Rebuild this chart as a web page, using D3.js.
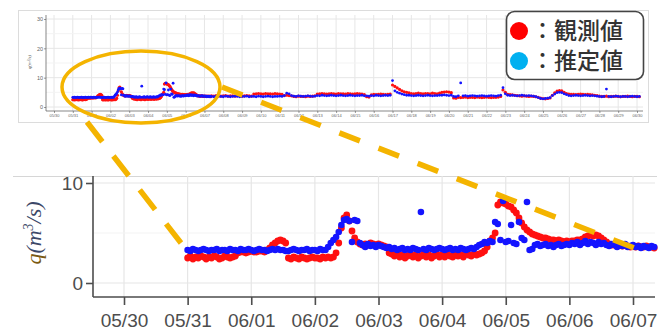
<!DOCTYPE html>
<head>
<meta charset="utf-8">
<title>観測値と推定値</title>
<style>
  body { margin: 0; padding: 0; background: #fff; }
  svg { display: block; font-family: 'Liberation Sans', Arial, sans-serif; }
  .grid line { stroke: #e6e6e6; }
  .grid line.minor { stroke: #f3f3f3; }
  .tick-label { fill: #4d4d4d; }
</style>
</head>
<body>
<div id="vis"></div>
<script src="https://cdn.jsdelivr.net/npm/d3@7"></script>
<script>
// hourly values from 05/31 00:00 (zoomed period)
var obsHourly = [
  2.5,2.7,2.4,2.6,2.5,2.7,2.6,2.4,2.6,2.5,2.7,2.6,2.4,2.5,2.7,2.6,2.5,2.6,2.7,3.0,3.1,3.1,3.0,3.1,
  3.2,3.1,3.1,3.2,3.2,3.1,3.3,3.5,3.8,4.0,4.2,4.3,4.2,4.0,2.5,2.4,2.6,2.5,2.4,2.6,2.5,2.4,2.5,2.6,
  2.5,2.5,2.4,2.6,2.5,2.6,2.5,2.6,3.0,4.0,5.5,6.5,6.8,6.2,5.2,4.5,4.1,3.9,3.8,3.9,3.8,4.0,3.9,3.8,
  3.9,3.8,3.7,3.6,3.0,2.9,2.7,2.9,2.6,2.8,2.5,2.7,2.9,2.6,2.8,2.5,2.7,2.9,2.6,2.8,2.5,2.7,2.9,2.6,
  2.8,2.6,2.9,2.7,2.6,2.9,2.7,2.8,2.6,2.9,2.8,2.7,2.9,2.8,2.9,3.0,3.2,3.6,4.2,4.5,5.0,7.8,8.1,8.0,
  7.9,7.7,7.6,7.3,7.0,6.5,6.0,5.6,5.3,5.1,4.9,4.8,4.7,4.6,4.5,4.5,4.4,4.3,4.3,4.2,4.3,4.2,4.1,4.2,
  4.1,4.2,4.2,4.3,4.3,4.4,4.6,4.7,4.8,4.7,4.8,4.7,4.5,4.3,4.1,3.9,3.8,3.8,3.7,3.8,3.7,3.8,3.7,3.6,
  3.7,3.6,3.7,3.6,3.6,3.7,3.6,3.6,3.5
];
var estHourly = [
  3.3,3.2,3.4,3.3,3.2,3.3,3.4,3.3,3.2,3.3,3.3,3.4,3.2,3.3,3.3,3.2,3.4,3.3,3.3,3.2,3.4,3.3,3.3,3.4,
  3.3,3.2,3.3,3.4,3.3,3.3,3.2,3.3,3.4,3.3,3.4,3.3,3.3,3.2,3.2,3.3,3.4,3.3,3.2,3.3,3.3,3.4,3.2,3.3,
  3.3,3.2,3.4,3.3,3.3,3.6,4.0,4.3,4.6,5.1,5.8,6.3,6.4,6.2,4.1,6.3,6.2,4.0,3.8,3.6,3.9,3.7,3.8,3.6,
  3.8,3.7,3.6,3.5,3.6,3.4,3.5,3.3,3.4,3.5,3.3,3.4,3.3,3.5,3.4,3.3,7.1,3.4,3.3,3.5,3.4,3.3,3.4,3.5,
  3.4,3.3,3.4,3.5,3.3,3.4,3.3,3.5,3.4,3.3,3.4,3.5,3.4,3.6,3.8,3.9,4.1,4.0,4.2,4.1,6.1,5.9,4.3,8.2,
  4.1,4.2,5.8,4.0,3.9,6.1,4.5,4.3,8.1,3.3,3.4,3.8,3.9,3.7,3.8,3.9,3.7,3.8,3.6,3.8,3.9,3.7,3.8,3.9,
  3.8,4.0,3.9,4.1,3.8,4.0,4.2,3.9,4.1,4.0,3.8,4.1,3.9,4.0,3.8,3.7,3.9,3.8,3.6,3.8,3.7,3.9,3.6,3.7,
  3.8,3.6,3.7,3.5,3.7,3.6,3.5,3.7,3.6
];
// 3-hourly values after the zoomed period (overview only)
var obsTail = [
  3.8,3.7,3.9,3.8,3.7,3.8,3.9,3.7,3.8,3.8,3.7,3.9,3.8,3.7,3.8,3.9,3.8,3.7,
  4.4,4.5,4.6,4.5,4.4,4.6,4.5,4.5,4.4,4.6,4.5,4.4,4.3,
  3.9,4.0,3.9,3.8,
  3.6,3.5,3.7,3.6,3.6,3.5,3.7,3.6,3.7,3.8,
  4.4,4.5,4.6,4.5,4.4,4.5,4.6,4.5,4.4,4.6,4.5,4.5,4.4,4.6,4.5,4.4,4.5,4.6,4.5,4.4,4.2,
  3.5,3.4,
  4.1,4.3,4.2,4.3,4.4,4.3,4.2,4.3,4.4,
  7.5,7.0,
  6.5,6.0,5.5,5.2,5.0,4.8,
  4.6,4.5,4.6,4.7,4.6,4.5,4.6,4.6,4.5,4.7,4.6,4.5,4.7,
  5.0,5.1,5.2,5.1,4.9,
  3.1,3.0,
  3.3,3.2,3.3,3.4,3.2,3.3,3.3,3.2,3.4,3.3,3.2,3.3,3.4,3.3,3.2,3.3,3.3,3.4,3.6,
  5.8,5.0,
  4.3,4.2,4.1,4.0,3.9,3.8,3.7,3.8,3.7,3.6,3.7,3.6,3.5,3.3,
  3.0,2.9,2.8,2.9,3.1,
  4.0,4.8,5.4,5.6,5.5,5.0,4.6,
  4.4,4.3,4.3,4.2,4.3,4.4,4.3,4.2,4.3,4.2,4.1,4.0,3.9,
  3.7,3.6,3.6,3.7,3.5,3.6,3.6,3.7,3.6,3.5,3.6,3.6,3.7,3.6,3.5,3.6,3.6,3.5
];
var estTail = [
  3.6,3.5,3.7,3.6,3.6,3.5,3.7,3.6,3.5,3.6,3.7,3.6,3.5,3.6,3.6,3.7,3.5,3.6,
  3.6,3.5,3.7,3.6,3.5,3.6,3.7,3.6,3.5,3.6,3.6,3.7,3.6,
  3.9,4.7,4.5,3.9,
  3.7,3.6,3.8,3.7,3.6,3.7,3.8,3.7,3.6,3.7,
  3.9,3.8,4.0,3.9,3.8,3.9,4.0,3.9,3.8,3.9,4.0,3.9,3.8,3.9,4.0,3.9,3.8,3.9,3.9,4.0,3.8,
  3.8,3.7,
  3.9,3.8,4.0,3.9,3.8,3.9,4.0,3.9,4.0,
  9.0,5.5,
  5.0,4.7,4.4,4.2,4.0,4.0,
  3.9,3.8,3.9,4.0,3.9,3.8,3.9,4.0,3.9,3.8,3.9,3.9,4.0,
  4.0,4.1,4.0,3.9,4.0,
  3.6,3.5,
  3.8,8.2,3.8,3.9,3.7,3.8,3.9,3.8,3.7,3.8,3.9,3.8,3.7,3.8,3.9,3.8,3.7,3.9,4.0,
  6.6,4.5,
  4.0,3.9,4.0,3.9,3.8,3.9,4.0,3.9,3.8,3.9,3.8,3.7,3.5,3.2,
  2.9,2.8,2.9,3.0,3.2,
  3.9,4.4,4.9,5.0,4.9,4.5,4.2,
  3.9,3.8,3.9,4.0,3.9,3.8,3.9,4.0,3.9,3.8,3.9,3.8,3.7,
  3.6,3.5,3.6,6.1,3.6,3.5,3.6,3.7,3.6,3.5,3.6,3.6,3.5,3.6,3.7,3.6,3.5,3.6
];
var legendLabels = ['：観測値', '：推定値'];
var legendColors = ['#ff0000', '#00b0f0'];

var W = 665, H = 332,
    red = '#ff1010', blue = '#1414ff', gold = '#f4b400';

var start = new Date(2018, 4, 31, 0),
    hour = 3600 * 1000;

function toSeries(hourly, tail) {
  var pts = hourly.map(function(v, i) { return { t: new Date(+start + i * hour), v: v }; });
  if (tail) {
    tail.forEach(function(v, i) {
      pts.push({ t: new Date(+start + (hourly.length + i * 3) * hour), v: v });
    });
  }
  return pts;
}

var obsAll = toSeries(obsHourly, obsTail),
    estAll = toSeries(estHourly, estTail),
    obsZoom = toSeries(obsHourly),
    estZoom = toSeries(estHourly);

var svg = d3.select('#vis').append('svg')
    .attr('width', W).attr('height', H);

var fmt = d3.timeFormat('%m/%d');

// ---------- overview chart ----------
var ovBox = { l: 46, r: 643, t: 15, b: 111 };
var xTop = d3.scaleTime()
    .domain([new Date(2018, 4, 30), new Date(2018, 5, 30)])
    .range([54, 637]);
var yTop = d3.scaleLinear().domain([0, 30]).range([107, 19]);

svg.append('rect')
    .attr('x', 18.5).attr('y', 10.5).attr('width', 630).attr('height', 112)
    .attr('fill', '#fff').attr('stroke', '#dcdcdc');

var gTop = svg.append('g');
var topDays = d3.timeDay.range(new Date(2018, 4, 30), new Date(2018, 5, 30, 1));

gTop.append('g').attr('class', 'grid')
  .selectAll('line').data(topDays).enter().append('line')
    .attr('x1', function(d) { return xTop(d); }).attr('x2', function(d) { return xTop(d); })
    .attr('y1', ovBox.t).attr('y2', ovBox.b);
gTop.append('g').attr('class', 'grid')
  .selectAll('line').data([0, 5, 10, 15, 20, 25, 30]).enter().append('line')
    .classed('minor', function(d) { return d % 10 !== 0; })
    .attr('x1', ovBox.l).attr('x2', ovBox.r)
    .attr('y1', function(d) { return yTop(d); }).attr('y2', function(d) { return yTop(d); });

gTop.append('g').selectAll('circle').data(obsAll).enter().append('circle')
    .attr('cx', function(d) { return xTop(d.t); })
    .attr('cy', function(d) { return yTop(d.v); })
    .attr('r', 1.6).attr('fill', red);
gTop.append('g').selectAll('circle').data(estAll).enter().append('circle')
    .attr('cx', function(d) { return xTop(d.t); })
    .attr('cy', function(d) { return yTop(d.v); })
    .attr('r', 1.4).attr('fill', blue);

var axTopY = gTop.append('g').attr('transform', 'translate(' + ovBox.l + ',0)')
    .call(d3.axisLeft(yTop).tickValues([0, 10, 20, 30]).tickSize(2).tickPadding(1));
var axTopX = gTop.append('g').attr('transform', 'translate(0,' + ovBox.b + ')')
    .call(d3.axisBottom(xTop).tickValues(topDays).tickFormat(fmt).tickSize(2).tickPadding(1.5));
[axTopY, axTopX].forEach(function(a) {
  a.select('.domain').remove();
  a.selectAll('line').attr('stroke', '#555').attr('stroke-width', 0.6);
  a.selectAll('text').attr('fill', '#666').attr('font-family', 'Liberation Sans, Arial, sans-serif');
});
axTopY.selectAll('text').attr('font-size', 5.5);
axTopX.selectAll('text').attr('font-size', 4);
gTop.append('line').attr('x1', ovBox.l).attr('x2', ovBox.l).attr('y1', ovBox.t).attr('y2', ovBox.b)
    .attr('stroke', '#555').attr('stroke-width', 0.7);
gTop.append('line').attr('x1', ovBox.l).attr('x2', ovBox.r).attr('y1', ovBox.b).attr('y2', ovBox.b)
    .attr('stroke', '#555').attr('stroke-width', 0.7);

var lblTop = gTop.append('text')
    .attr('transform', 'translate(31,62) rotate(-90)')
    .attr('text-anchor', 'middle').attr('font-size', 5).attr('fill', '#444')
    .attr('font-family', 'Liberation Serif, serif').attr('font-style', 'italic');
lblTop.text('q(m³/s)');

// ---------- zoomed chart ----------
var bot = { l: 93, r: 655, t: 176, b: 297 };
var xBot = d3.scaleTime()
    .domain([new Date(2018, 4, 30), new Date(2018, 5, 7)])
    .range([124, 633]);
var yBot = d3.scaleLinear().domain([0, 10]).range([283, 183]);
var botDays = d3.timeDay.range(new Date(2018, 4, 30), new Date(2018, 5, 7, 1));

var gBot = svg.append('g');
gBot.append('line').attr('x1', 13).attr('x2', 657).attr('y1', bot.t + 0.5).attr('y2', bot.t + 0.5)
    .attr('stroke', '#d6d6d6');
gBot.append('g').attr('class', 'grid')
  .selectAll('line').data(botDays).enter().append('line')
    .attr('x1', function(d) { return xBot(d); }).attr('x2', function(d) { return xBot(d); })
    .attr('y1', bot.t).attr('y2', bot.b).attr('stroke-width', 1.2);
gBot.append('g').attr('class', 'grid')
  .selectAll('line').data([0, 5, 10]).enter().append('line')
    .classed('minor', function(d) { return d === 5; })
    .attr('x1', bot.l).attr('x2', bot.r)
    .attr('y1', function(d) { return yBot(d); }).attr('y2', function(d) { return yBot(d); })
    .attr('stroke-width', 1.2);

gBot.append('g').selectAll('circle').data(obsZoom).enter().append('circle')
    .attr('cx', function(d) { return xBot(d.t); })
    .attr('cy', function(d) { return yBot(d.v); })
    .attr('r', 3.4).attr('fill', red);
gBot.append('g').selectAll('circle').data(estZoom).enter().append('circle')
    .attr('cx', function(d) { return xBot(d.t); })
    .attr('cy', function(d) { return yBot(d.v); })
    .attr('r', 3.3).attr('fill', blue);

var axBotY = gBot.append('g').attr('transform', 'translate(' + bot.l + ',0)')
    .call(d3.axisLeft(yBot).tickValues([0, 10]).tickSize(7).tickPadding(3));
var axBotX = gBot.append('g').attr('transform', 'translate(0,' + bot.b + ')')
    .call(d3.axisBottom(xBot).tickValues(botDays).tickFormat(fmt).tickSize(8).tickPadding(9));
[axBotY, axBotX].forEach(function(a) {
  a.select('.domain').remove();
  a.selectAll('line').attr('stroke', '#4d4d4d').attr('stroke-width', 1.6);
  a.selectAll('text').attr('class', 'tick-label').attr('font-size', 19)
    .attr('font-family', 'Liberation Sans, Arial, sans-serif');
});
gBot.append('line').attr('x1', bot.l).attr('x2', bot.l).attr('y1', bot.t).attr('y2', bot.b)
    .attr('stroke', '#4d4d4d').attr('stroke-width', 1.6);
gBot.append('line').attr('x1', bot.l).attr('x2', bot.r).attr('y1', bot.b).attr('y2', bot.b)
    .attr('stroke', '#4d4d4d').attr('stroke-width', 1.6);

var lblBot = gBot.append('text')
    .attr('transform', 'translate(41,233) rotate(-90)')
    .attr('text-anchor', 'middle').attr('font-size', 22)
    .attr('font-family', 'Liberation Serif, serif').attr('font-style', 'italic');
lblBot.append('tspan').attr('fill', '#7a5a12').text('q');
lblBot.append('tspan').attr('fill', '#3c4868').text('(m');
lblBot.append('tspan').attr('fill', '#3c4868').attr('font-size', 14).attr('dy', -8).text('3');
lblBot.append('tspan').attr('fill', '#3c4868').attr('dy', 8).text('/s)');

// ---------- zoom annotation ----------
svg.append('ellipse')
    .attr('cx', 141).attr('cy', 87).attr('rx', 79).attr('ry', 36)
    .attr('fill', 'none').attr('stroke', gold).attr('stroke-width', 3.5);
svg.append('line')
    .attr('x1', 87).attr('y1', 122).attr('x2', 181).attr('y2', 243)
    .attr('stroke', gold).attr('stroke-width', 5.5).attr('stroke-dasharray', '25,18');
svg.append('line')
    .attr('x1', 222).attr('y1', 87).attr('x2', 637).attr('y2', 249)
    .attr('stroke', gold).attr('stroke-width', 5.5).attr('stroke-dasharray', '22,20');

// ---------- legend ----------
var lg = svg.append('g');
lg.append('rect')
    .attr('x', 506.5).attr('y', 11.5).attr('width', 137).attr('height', 68).attr('rx', 8)
    .attr('fill', '#fff').attr('stroke', '#444').attr('stroke-width', 1.6);
var row = lg.selectAll('g.row').data(legendLabels).enter().append('g')
    .attr('transform', function(d, i) { return 'translate(0,' + (31 + i * 30) + ')'; });
row.append('circle').attr('cx', 519).attr('cy', 0).attr('r', 9)
    .attr('fill', function(d, i) { return legendColors[i]; });
row.append('text').attr('x', 531).attr('y', 8)
    .attr('font-family', 'Noto Sans CJK JP, sans-serif').attr('font-weight', 500)
    .attr('font-size', 23).attr('fill', '#333')
    .text(function(d) { return d; });
</script>
</body>
